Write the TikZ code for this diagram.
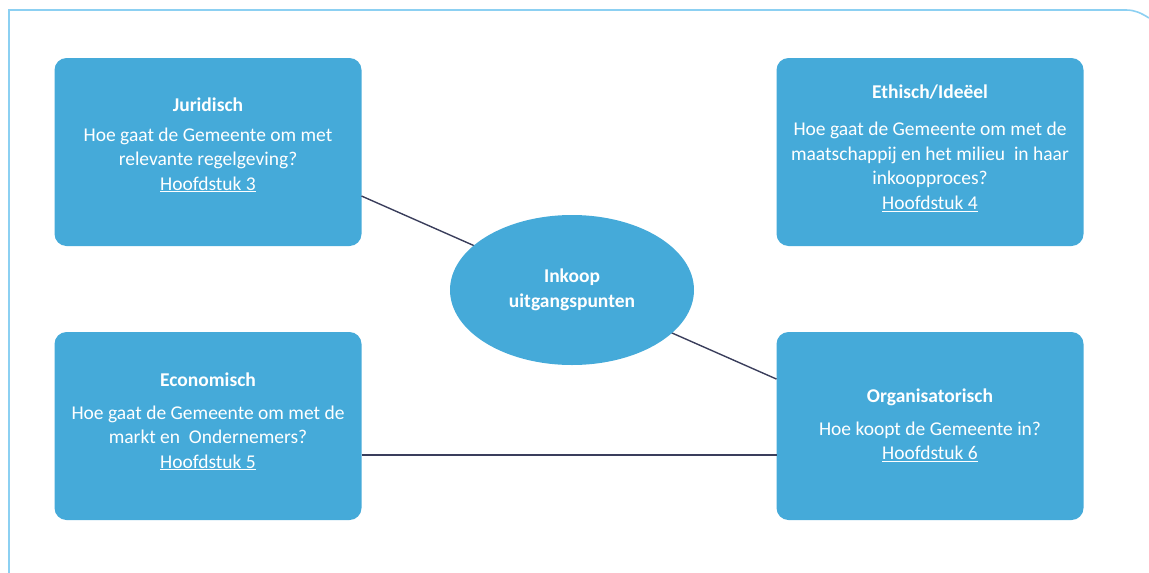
\documentclass[tikz,border=0pt]{standalone}
\usepackage{fontspec}
\setmainfont{Carlito}
\usepackage{tikz}
\usetikzlibrary{shapes.geometric}

\definecolor{vakblauw}{RGB}{69,170,217}
\definecolor{randblauw}{RGB}{140,208,242}
\definecolor{lijnblauw}{RGB}{58,62,92}

\begin{document}
\begin{tikzpicture}[x=1pt,y=-1pt,outer sep=0pt,inner sep=2pt]

	\tikzstyle{every node}=[font=\fontsize{19.5}{24.5}\selectfont,text=white]

	\tikzset{vak/.style={align=center,shape=rectangle,rounded corners=12pt,
		minimum height=188pt,minimum width=307pt,fill=vakblauw}}

	\tikzset{kern/.style={align=center,shape=ellipse,
		minimum height=150pt,minimum width=244pt,fill=vakblauw}}

	\tikzset{verbinding/.style={draw=lijnblauw,line width=1.4pt}}

	\useasboundingbox (0,0) rectangle (1149,573);

	% Light blue frame round the figure.
	\draw [draw=randblauw,line width=1.6pt] (9,573) -- (9,10) -- (1126,10)
		.. controls (1135,10) and (1141,13) .. (1149,18);

	% The four points of view, two above and two below.
	\node (juridisch) at (208,152) [vak,text depth=16pt] {\textbf{Juridisch}\\[5pt]
		Hoe gaat de Gemeente om met\\relevante regelgeving?\\\underline{Hoofdstuk 3}};
	\node (ethisch) at (930,152) [vak,text depth=10pt] {\textbf{Ethisch/Ideëel}\\[13pt]
		Hoe gaat de Gemeente om met de\\maatschappij en het milieu\ \ in haar\\inkoopproces?\\\underline{Hoofdstuk 4}};
	\node (economisch) at (208,426) [vak,text depth=11pt] {\textbf{Economisch}\\[8pt]
		Hoe gaat de Gemeente om met de\\markt en\ \ Ondernemers?\\\underline{Hoofdstuk 5}};
	\node (organisatorisch) at (930,426) [vak,text depth=3pt] {\textbf{Organisatorisch}\\[8pt]
		Hoe koopt de Gemeente in?\\\underline{Hoofdstuk 6}};

	% Lines between the points of view.
	\draw [verbinding] (juridisch.-16.3) -- (organisatorisch.163.4);
	\draw [verbinding] ([yshift=-29pt]economisch.east) -- ([yshift=-29pt]organisatorisch.west);

	% Ellipse in the middle, on top of the line.
	\node (inkoop) at (572,290) [kern] {\fontsize{19.5}{23}\selectfont\textbf{Inkoop}\\\textbf{uitgangspunten}};
\end{tikzpicture}
\end{document}
